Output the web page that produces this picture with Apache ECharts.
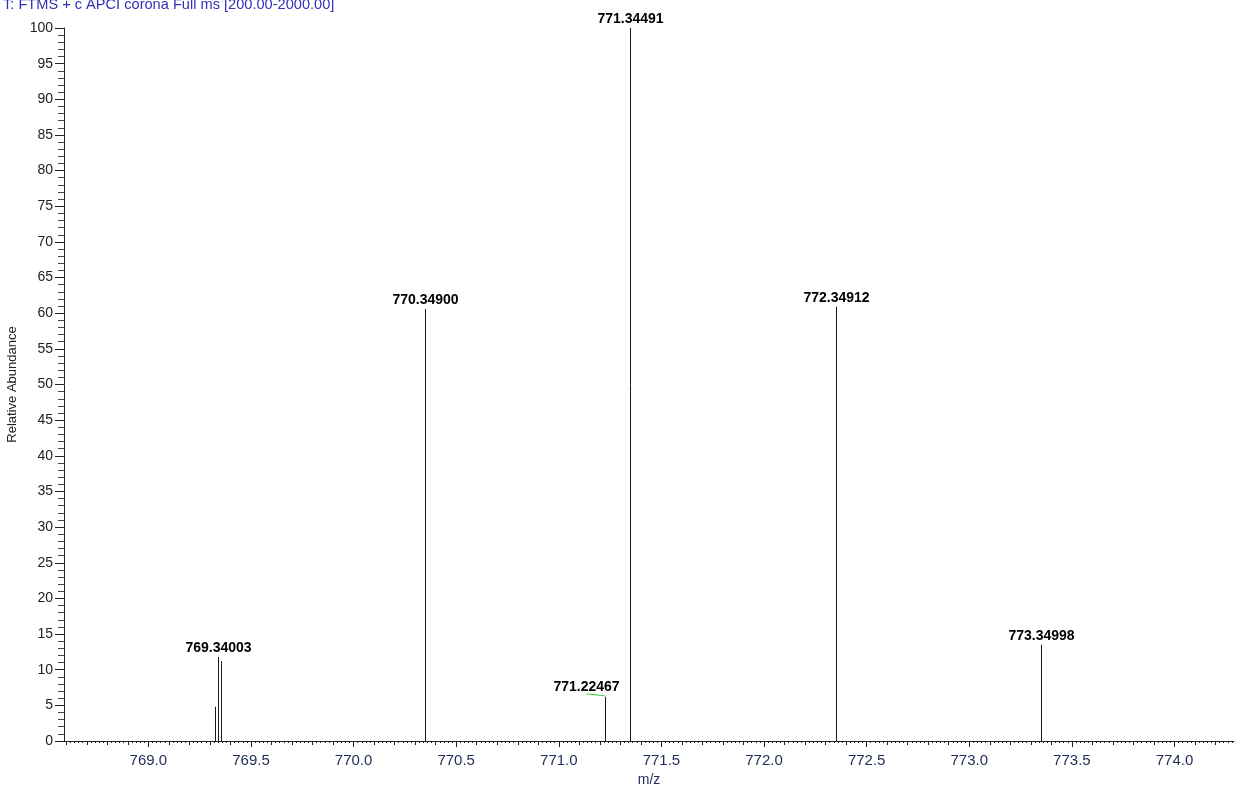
<!DOCTYPE html>
<html>
<head>
<meta charset="utf-8">
<script src="https://cdn.jsdelivr.net/npm/echarts@6/dist/echarts.min.js"></script>
<style>
  html, body { margin: 0; padding: 0; background: #fff; }
  #chart { width: 1235px; height: 787px; }
</style>
</head>
<body>
<div id="chart"></div>
<script>
// peaks
var peakMz = [769.3245, 769.34003, 769.3520, 770.34900, 771.22467, 771.34491, 772.34912, 773.34998];
var peakAbundance = [4.8, 11.8, 11.2, 60.6, 6.2, 100, 60.9, 13.5];
var peakLabels = ['', '769.34003', '', '770.34900', '771.22467', '771.34491', '772.34912', '773.34998'];

// axis ticks
var xLabelValues = [769.0, 769.5, 770.0, 770.5, 771.0, 771.5, 772.0, 772.5, 773.0, 773.5, 774.0];
var xMin = 768.589;
var xMax = 774.29;

var titleText = 'T: FTMS + c APCI corona Full ms [200.00-2000.00]';

// labels that are pushed aside (with a leader line)
var labelShift = { '771.22467': -19 };

var FONT = '"Liberation Sans", Arial, sans-serif';

function stepValues(step) {
    var out = [];
    var start = Math.ceil(xMin / step - 1e-9);
    for (var k = start; k * step <= xMax + 1e-9; k++) {
        out.push(Math.round(k * step * 1000) / 1000);
    }
    return out;
}

var data = peakMz.map(function (mz, i) {
    return [mz, peakAbundance[i]];
});

var renderItem = function (params, api) {
    var i = params.dataIndex;
    var base = api.coord([api.value(0), 0]);
    var top = api.coord([api.value(0), api.value(1)]);
    var x = Math.round(base[0]) + 0.5;
    var children = [{
        type: 'line',
        shape: { x1: x, y1: base[1], x2: x, y2: top[1] },
        style: { stroke: '#1a1a1a', lineWidth: 1 }
    }];
    var label = peakLabels[i];
    if (label) {
        var dx = labelShift[label] || 0;
        children.push({
            type: 'text',
            x: x + dx,
            y: top[1] - (dx ? 3 : 2),
            style: {
                text: label,
                textAlign: 'center',
                textVerticalAlign: 'bottom',
                font: 'bold 14px ' + FONT,
                fill: '#000'
            }
        });
        if (dx) {
            // leader line from the shifted label back to its peak
            children.push({
                type: 'line',
                shape: { x1: x + dx, y1: top[1] - 3, x2: x - 1, y2: top[1] - 1 },
                style: { stroke: '#33cc33', lineWidth: 1 }
            });
        }
    }
    return { type: 'group', children: children };
};

function tickAxis(values, len, extra) {
    var ax = {
        type: 'value',
        position: 'bottom',
        min: xMin,
        max: xMax,
        splitLine: { show: false },
        axisLine: { show: false },
        axisLabel: { show: false },
        axisTick: {
            show: true,
            length: len,
            customValues: values,
            lineStyle: { color: '#222', width: 1 }
        }
    };
    return Object.assign(ax, extra || {});
}

var myChart = echarts.init(document.getElementById('chart'));

var option = {
    animation: false,
    title: {
        text: titleText,
        left: -2,
        top: -8,
        textStyle: {
            fontFamily: FONT,
            fontWeight: 'normal',
            fontSize: 14.6,
            color: '#3030b8'
        }
    },
    grid: {
        left: 64,
        right: 1,
        top: 28,
        bottom: 46,
        containLabel: false,
        outerBoundsMode: 'none'
    },
    xAxis: [
        tickAxis(xLabelValues, 6, {
            name: 'm/z',
            nameLocation: 'middle',
            nameGap: 31,
            nameTextStyle: {
                fontFamily: FONT,
                fontSize: 14,
                color: '#1f2d55'
            },
            axisLine: {
                show: true,
                lineStyle: { color: '#222', width: 1 }
            },
            axisLabel: {
                show: true,
                customValues: xLabelValues,
                margin: 12,
                fontFamily: FONT,
                fontSize: 15,
                color: '#1f2d55',
                formatter: function (v) { return v.toFixed(1); }
            }
        }),
        tickAxis(stepValues(0.1), 4),
        tickAxis(stepValues(0.02), 2)
    ],
    yAxis: {
        type: 'value',
        min: 0,
        max: 100,
        interval: 5,
        name: 'Relative Abundance',
        nameLocation: 'middle',
        nameGap: 37,
        nameTextStyle: {
            fontFamily: FONT,
            fontSize: 13,
            color: '#222'
        },
        splitLine: { show: false },
        axisLine: {
            show: true,
            lineStyle: { color: '#222', width: 1 }
        },
        axisTick: {
            show: true,
            length: 9,
            lineStyle: { color: '#222' }
        },
        minorTick: {
            show: true,
            splitNumber: 5,
            length: 6,
            lineStyle: { color: '#444' }
        },
        axisLabel: {
            margin: 11,
            fontFamily: FONT,
            fontSize: 14,
            color: '#222'
        }
    },
    series: [
        {
            name: 'spectrum',
            type: 'custom',
            xAxisIndex: 0,
            renderItem: renderItem,
            clip: false,
            encode: { x: 0, y: 1 },
            data: data
        }
    ]
};

myChart.setOption(option, true);
</script>
</body>
</html>
